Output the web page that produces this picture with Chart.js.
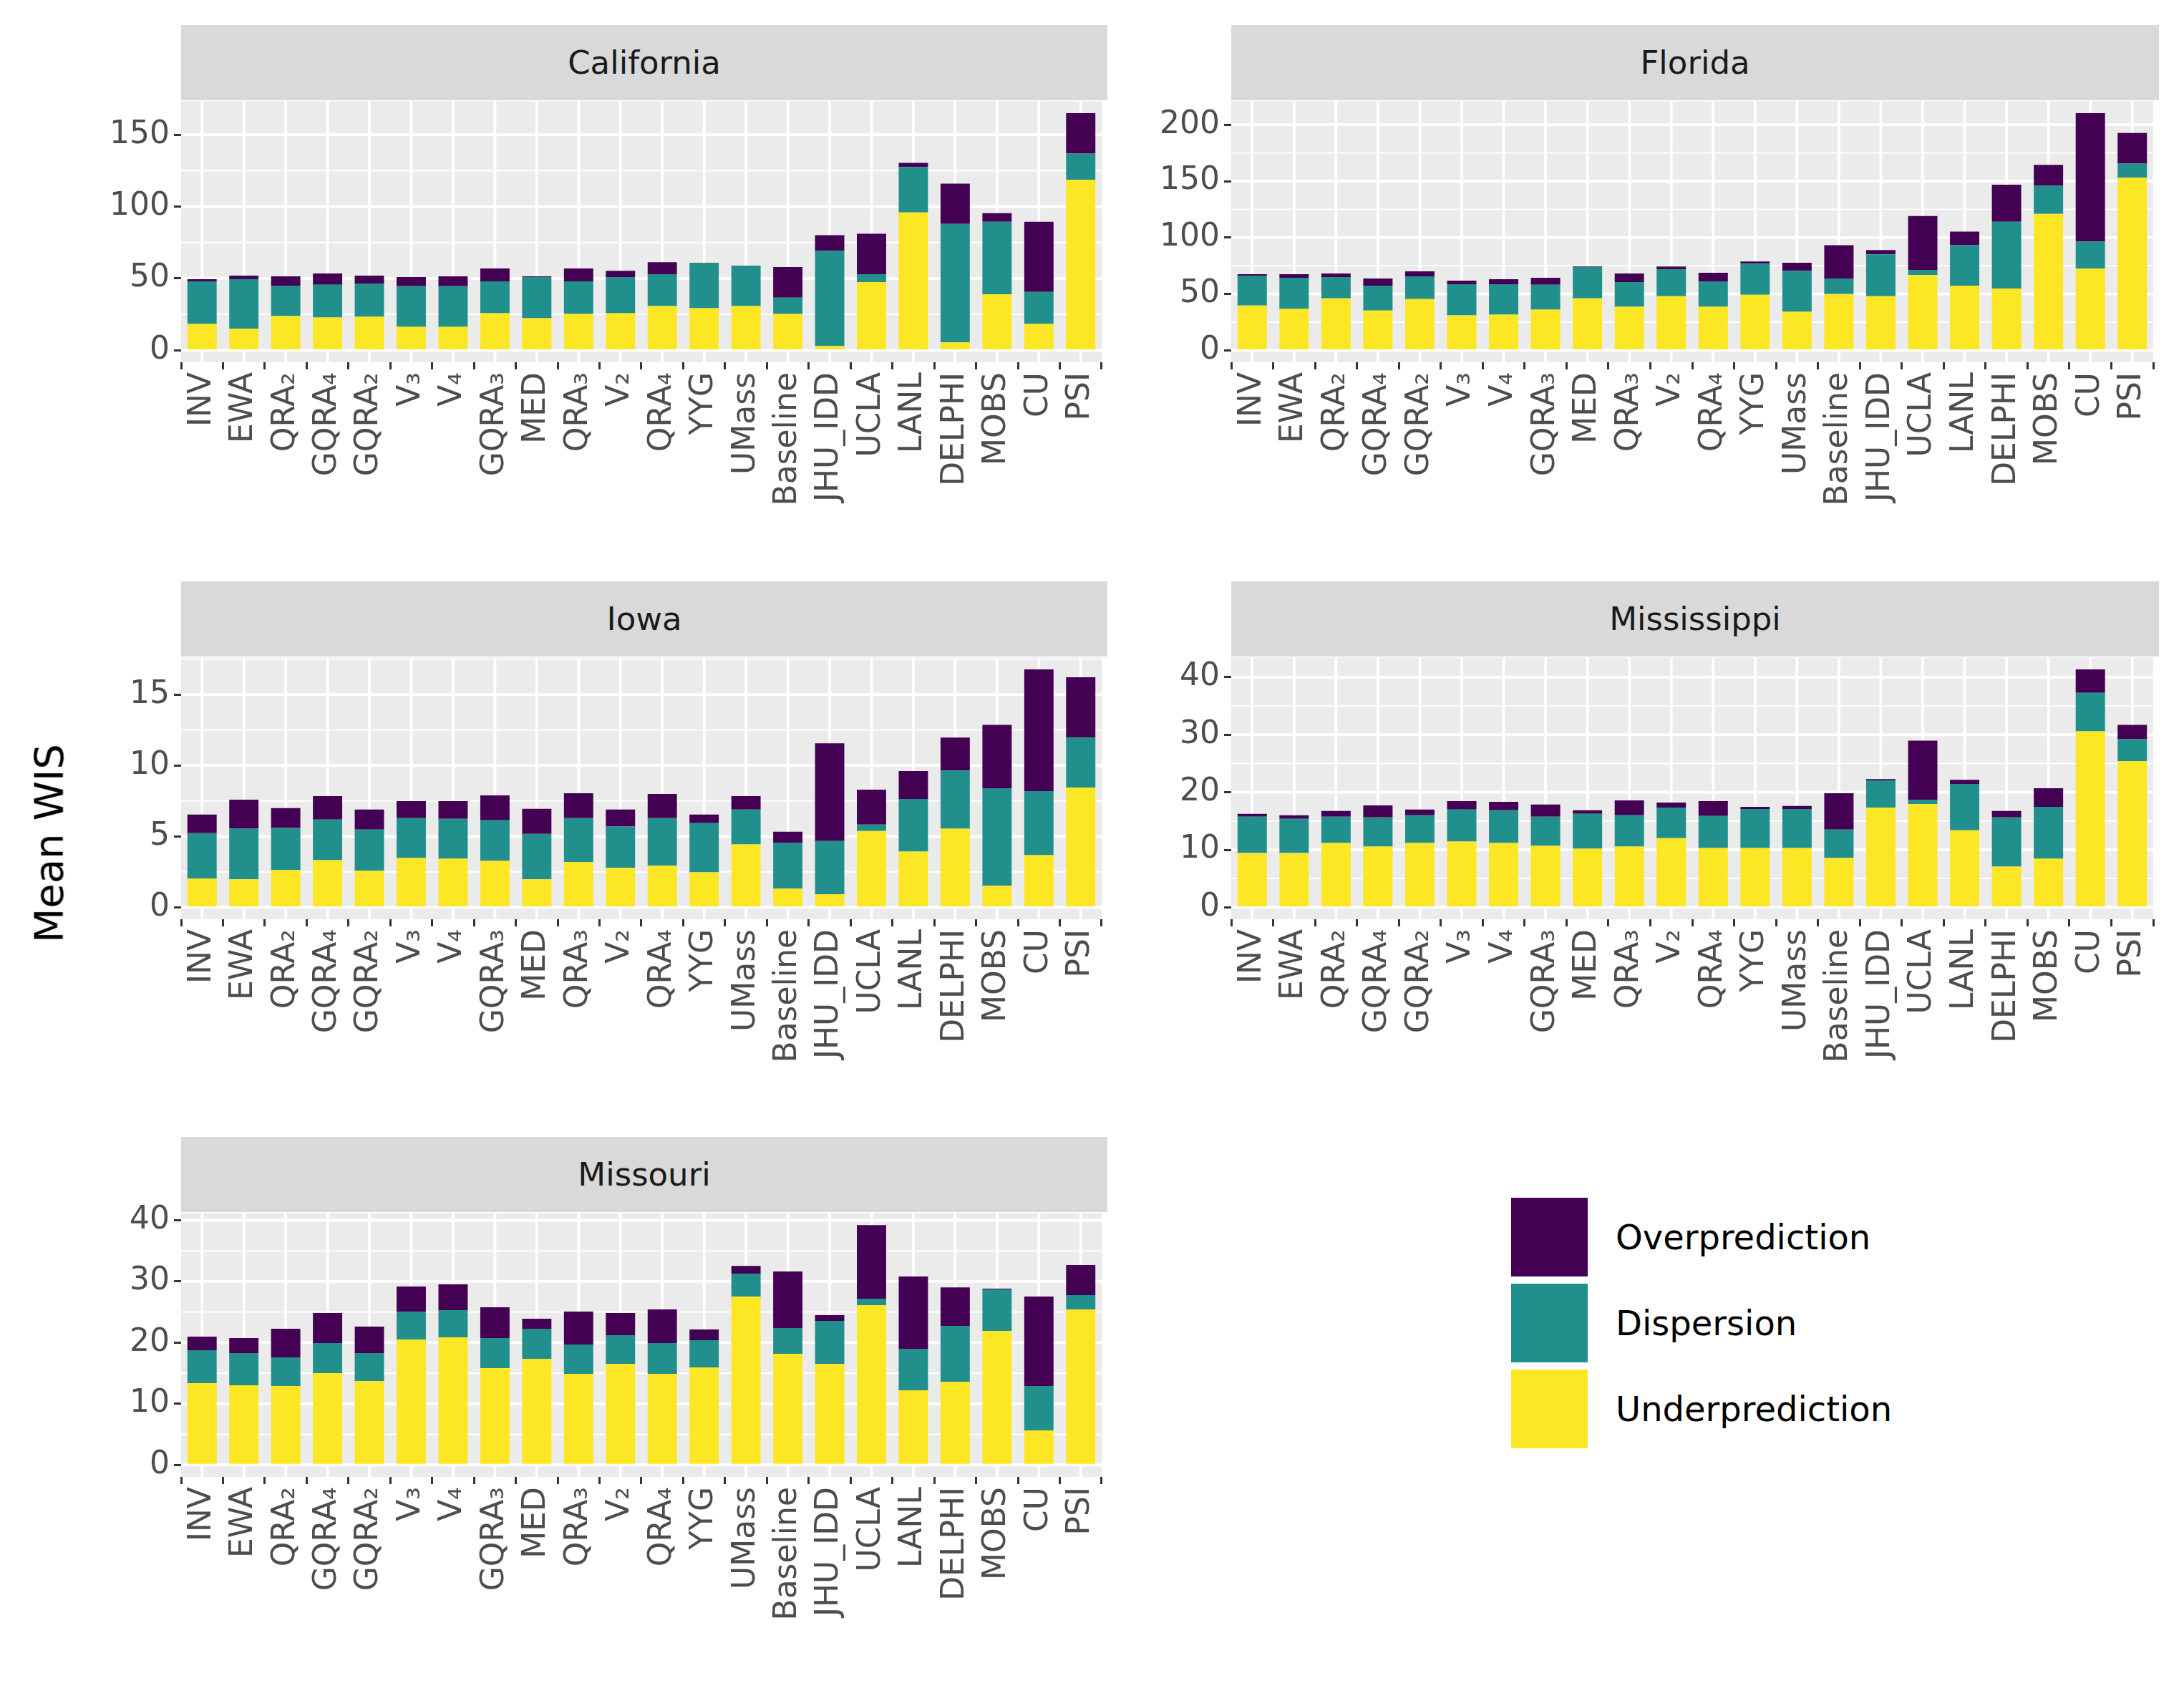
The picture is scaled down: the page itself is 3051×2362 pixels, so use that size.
<!DOCTYPE html>
<html><head><meta charset="utf-8">
<script src="https://cdn.jsdelivr.net/npm/chart.js@4.4.1/dist/chart.umd.min.js"></script>
<style>
body{margin:0;background:#fff;width:3051px;height:2362px;position:relative;overflow:hidden;font-family:"DejaVu Sans",sans-serif}
.strip{position:absolute;background:#D9D9D9;color:#1A1A1A;font-size:45px;display:flex;align-items:center;justify-content:center}
canvas{position:absolute}
.key{position:absolute;left:2111px;width:107px;height:110px}
.lt{position:absolute;left:2257px;font-size:48px;color:#000;transform:translateY(-50%)}
</style></head><body>
<script>
const models = ["INV","EWA","QRA₂","GQRA₄","GQRA₂","V₃","V₄","GQRA₃","MED","QRA₃","V₂","QRA₄","YYG","UMass","Baseline","JHU_IDD","UCLA","LANL","DELPHI","MOBS","CU","PSI"];

const caUnder = [18.4,15,23.8,22.9,23.4,16.4,16.4,25.8,22.4,25.3,25.8,30.8,29.3,30.8,25.3,3.1,47.5,95.9,5.6,39.1,18.4,118.6];
const caDisp  = [29.6,34.5,21.2,22.7,23.1,28.2,28.2,22.2,28.6,22.7,25.2,22.2,31.6,28.1,11.4,66.1,5.5,31.6,82.4,50.4,22.2,18.2];
const caOver  = [1.5,2.5,6.5,7.9,5.5,6.4,6.9,9,0.5,9,4.4,8.3,0,0,21.2,10.9,28.1,2.9,28,5.9,48.9,28.2];

const flUnder = [39.8,36.7,46.1,35.4,45.5,31,31.7,36.1,46.1,38.6,48,38.6,49.3,34.2,49.9,48,66.9,57.4,54.9,121,72.5,153];
const flDisp  = [26.4,27.7,18.9,22,20.1,27.7,27,22,27.7,22,23.9,22.6,27.6,36.4,13.8,37.1,4.4,35.9,59.1,25.1,23.9,12.6];
const flOver  = [1.3,3.1,3.1,6.3,4.4,3.1,4.4,6.3,0.6,7.5,2.5,7.6,1.9,7,29.6,3.8,47.8,11.9,32.8,18.3,113.9,27.1];

const iaUnder = [2.02,1.97,2.63,3.33,2.58,3.48,3.43,3.28,1.97,3.18,2.78,2.93,2.47,4.43,1.32,0.92,5.38,3.93,5.54,1.52,3.68,8.44];
const iaDisp  = [3.21,3.57,2.96,2.86,2.9,2.81,2.81,2.86,3.21,3.11,2.91,3.36,3.47,2.46,3.21,3.76,0.46,3.71,4.11,6.87,4.51,3.52];
const iaOver  = [1.31,2.05,1.4,1.65,1.41,1.2,1.25,1.75,1.76,1.75,1.2,1.7,0.6,0.95,0.8,6.88,2.45,1.96,2.31,4.47,8.58,4.26];

const msUnder = [9.44,9.44,11.18,10.56,11.18,11.42,11.18,10.68,10.19,10.56,12.04,10.31,10.31,10.31,8.58,17.36,17.98,13.4,7.09,8.45,30.6,25.4];
const msDisp  = [6.31,5.94,4.57,5.07,4.82,5.57,5.69,5.07,6.06,5.44,5.32,5.57,6.8,6.8,4.95,4.7,0.74,8.04,8.54,9.03,6.68,3.84];
const msOver  = [0.5,0.62,0.99,2.1,0.99,1.48,1.48,2.11,0.62,2.6,0.87,2.59,0.37,0.5,6.31,0.24,10.27,0.74,1.11,3.22,4.08,2.47];

const moUnder = [13.37,13.02,12.9,15.01,13.72,20.51,20.86,15.83,17.35,14.89,16.53,14.89,15.95,27.52,18.17,16.53,26.12,12.2,13.61,21.91,5.65,25.42];
const moDisp  = [5.38,5.26,4.68,4.91,4.56,4.56,4.44,4.91,4.91,4.8,4.68,5.03,4.44,3.75,4.21,7.02,1.05,6.79,9.12,6.78,7.25,2.34];
const moOver  = [2.22,2.46,4.68,4.91,4.33,4.09,4.21,5.03,1.64,5.38,3.62,5.5,1.75,1.28,9.24,0.93,12.05,11.81,6.31,0.12,14.62,4.91];

const COL = {over:"#440154", disp:"#21908C", under:"#FDE725"};
const YW = 160, XH = 300, TOPPAD = 31;

const bgGrid = {
  id:"bgGrid",
  beforeDatasetsDraw(chart){
    const {ctx, chartArea:a, scales:{x,y}} = chart;
    const step = chart.options.plugins.bgGrid.step;
    ctx.save();
    ctx.fillStyle="#EBEBEB"; ctx.fillRect(a.left,a.top,a.right-a.left,a.bottom-a.top);
    ctx.strokeStyle="#FFFFFF";
    for(let v=-step/2; v<=y.max; v+=step){
      if(v<y.min) continue;
      const p=y.getPixelForValue(v); ctx.lineWidth=1.8;
      ctx.beginPath(); ctx.moveTo(a.left,p); ctx.lineTo(a.right,p); ctx.stroke();
    }
    for(let v=0; v<=y.max; v+=step){
      const p=y.getPixelForValue(v); ctx.lineWidth=3.8;
      ctx.beginPath(); ctx.moveTo(a.left,p); ctx.lineTo(a.right,p); ctx.stroke();
    }
    for(let i=0;i<chart.data.labels.length;i++){
      const p=x.getPixelForValue(i); ctx.lineWidth=3.8;
      ctx.beginPath(); ctx.moveTo(p,a.top); ctx.lineTo(p,a.bottom); ctx.stroke();
    }
    ctx.restore();
  }
};

function panel(name, under, disp, over, step, plotL, plotT, plotW, plotH){
  const stripTop = plotT - 105;
  const s=document.createElement("div"); s.className="strip";
  Object.assign(s.style,{left:plotL+"px",top:stripTop+"px",width:plotW+"px",height:"105px"});
  s.textContent=name; document.body.appendChild(s);
  const c=document.createElement("canvas");
  c.width=YW+plotW+20; c.height=plotH+XH+TOPPAD;
  c.style.left=(plotL-YW)+"px"; c.style.top=(plotT-TOPPAD)+"px";
  c.style.width=c.width+"px"; c.style.height=c.height+"px";
  document.body.insertBefore(c, s);
  const totals = under.map((u,i)=>u+disp[i]+over[i]);
  const mx = Math.max(...totals);
  new Chart(c,{
    type:"bar",
    data:{labels:models,datasets:[
      {label:"Underprediction",data:under,backgroundColor:COL.under},
      {label:"Dispersion",data:disp,backgroundColor:COL.disp},
      {label:"Overprediction",data:over,backgroundColor:COL.over}
    ]},
    options:{
      responsive:false, animation:false, devicePixelRatio:1,
      layout:{padding:{left:0,right:20,top:0,bottom:0}},
      datasets:{bar:{categoryPercentage:1,barPercentage:0.7,borderWidth:0}},
      plugins:{legend:{display:false},tooltip:{enabled:false},bgGrid:{step}},
      scales:{
        x:{stacked:true,
          grid:{display:true,drawOnChartArea:false,drawTicks:true,tickLength:10,color:"#333333",lineWidth:3},
          border:{display:false},
          ticks:{color:"#4D4D4D",font:{size:44,family:"DejaVu Sans"},minRotation:90,maxRotation:90,autoSkip:false,padding:4},
          afterFit(sc){sc.height=XH;}
        },
        y:{stacked:true,min:-0.05*mx,max:1.05*mx,
          grid:{display:true,drawOnChartArea:false,drawTicks:true,tickLength:10,color:"#333333",lineWidth:3},
          border:{display:false},
          ticks:{color:"#4D4D4D",font:{size:44,family:"DejaVu Sans"},padding:6},
          afterBuildTicks(sc){const t=[];for(let v=0;v<=sc.max;v+=step)t.push({value:v});sc.ticks=t;},
          afterFit(sc){sc.width=YW;}
        }
      }
    },
    plugins:[bgGrid]
  });
}

panel("California", caUnder, caDisp, caOver, 50, 253, 140, 1294, 366);
panel("Florida", flUnder, flDisp, flOver, 50, 1720, 140, 1296, 366);
panel("Iowa", iaUnder, iaDisp, iaOver, 5, 253, 917, 1294, 367);
panel("Mississippi", msUnder, msDisp, msOver, 10, 1720, 917, 1296, 367);
panel("Missouri", moUnder, moDisp, moOver, 10, 253, 1693, 1294, 370);

const legendItems=[["Overprediction",COL.over,1673],["Dispersion",COL.disp,1793],["Underprediction",COL.under,1913]];
for(const [t,c,y] of legendItems){
  const k=document.createElement("div");k.className="key";k.style.top=y+"px";k.style.background=c;document.body.appendChild(k);
  const l=document.createElement("div");l.className="lt";l.style.top=(y+55)+"px";l.textContent=t;document.body.appendChild(l);
}
const yt=document.createElement("div");
Object.assign(yt.style,{position:"absolute",left:"68px",top:"1178px",fontSize:"56px",color:"#000",transform:"translate(-50%,-50%) rotate(-90deg)",whiteSpace:"nowrap"});
yt.textContent="Mean WIS";document.body.appendChild(yt);
</script>
</body></html>
